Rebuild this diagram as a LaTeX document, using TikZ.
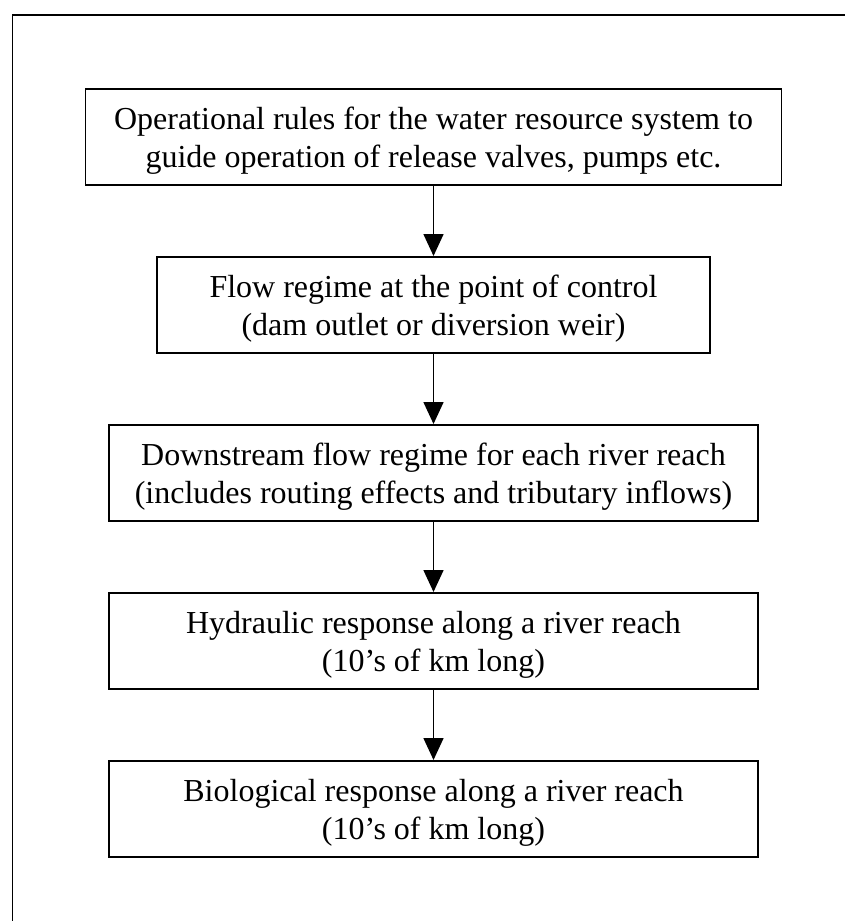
\documentclass[tikz,border=0pt]{standalone}
\usepackage{fontspec}
\setmainfont{Liberation Serif}
\usetikzlibrary{arrows.meta}
\begin{document}
\begin{tikzpicture}[x=1pt,y=-1pt,
  flowbox/.style={draw, line width=1.7pt, minimum height=96pt, anchor=north, inner sep=0pt},
  flowtext/.style={align=center, inner sep=0pt, yshift=-3.5pt, font=\fontsize{32}{38}\selectfont},
  flowarrow/.style={line width=1.6pt, -{Triangle[length=22pt,width=20pt]}}]
\useasboundingbox (0,0) rectangle (845,921);
\draw[line width=1.7pt] (12.5,921) -- (12.5,15) -- (845,15);
\node[flowbox, minimum width=696pt] (b1) at (433.5,88) {};
\node[flowbox, minimum width=553pt] (b2) at (433.5,256) {};
\node[flowbox, minimum width=649pt] (b3) at (433.5,424) {};
\node[flowbox, minimum width=649pt] (b4) at (433.5,592) {};
\node[flowbox, minimum width=649pt] (b5) at (433.5,760) {};
\node[flowtext] (t1) at (b1.center) {Operational rules for the water resource system to\\guide operation of release valves, pumps etc.};
\node[flowtext] (t2) at (b2.center) {Flow regime at the point of control\\(dam outlet or diversion weir)};
\node[flowtext] (t3) at (b3.center) {Downstream flow regime for each river reach\\(includes routing effects and tributary inflows)};
\node[flowtext] (t4) at (b4.center) {Hydraulic response along a river reach\\(10’s of km long)};
\node[flowtext] (t5) at (b5.center) {Biological response along a river reach\\(10’s of km long)};
\draw[flowarrow] (b1) -- (b2);
\draw[flowarrow] (b2) -- (b3);
\draw[flowarrow] (b3) -- (b4);
\draw[flowarrow] (b4) -- (b5);
\end{tikzpicture}
\end{document}
